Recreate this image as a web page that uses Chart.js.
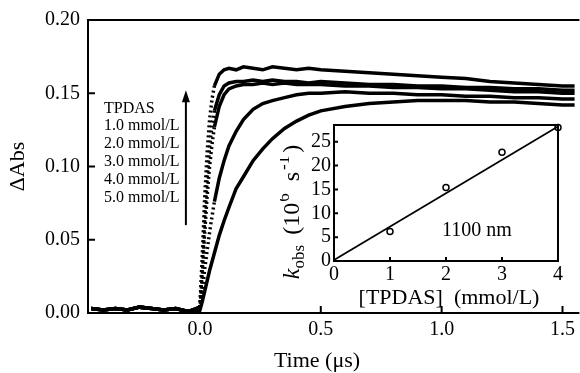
<!DOCTYPE html>
<html>
<head>
<meta charset="utf-8">
<script src="https://cdn.jsdelivr.net/npm/chart.js@4.4.1/dist/chart.umd.min.js"></script>
<style>
  html, body { margin: 0; padding: 0; background: #fff; }
  #wrap { position: relative; width: 580px; height: 373px; }
  #mainChart { position: absolute; left: 0; top: 0; }
  #insetChart { position: absolute; left: 280px; top: 110px; }
</style>
</head>
<body>
<div id="wrap">
  <canvas id="mainChart" width="580" height="373"></canvas>
  <canvas id="insetChart" width="300" height="200"></canvas>
</div>
<script>
const SERIF = '"Liberation Serif", "Times New Roman", serif';

// --- main panel: transient absorption at 1100 nm ---
const preTimes = [-0.45, -0.40, -0.35, -0.30, -0.25, -0.20, -0.15, -0.10, -0.05];
const baseline = [0.003, 0.002, 0.003, 0.002, 0.004, 0.003, 0.002, 0.003, 0.001];
const riseTimes = [0, 0.01, 0.02, 0.03, 0.04, 0.05, 0.06, 0.08, 0.10, 0.12, 0.15, 0.18, 0.22, 0.26, 0.30,
                   0.35, 0.40, 0.45, 0.50, 0.60, 0.70, 0.80, 0.90, 1.00, 1.10, 1.20, 1.30, 1.40, 1.50, 1.55];
const trace50 = [0.004, 0.040, 0.080, 0.110, 0.132, 0.146, 0.155, 0.163, 0.166, 0.167, 0.166, 0.168, 0.167, 0.166, 0.168,
                 0.167, 0.166, 0.167, 0.166, 0.165, 0.164, 0.163, 0.162, 0.161, 0.160, 0.158, 0.157, 0.156, 0.155, 0.155];
const trace40 = [0.004, 0.030, 0.065, 0.092, 0.113, 0.128, 0.138, 0.149, 0.155, 0.157, 0.158, 0.158, 0.159, 0.158, 0.159,
                 0.158, 0.158, 0.157, 0.158, 0.157, 0.156, 0.156, 0.155, 0.155, 0.154, 0.154, 0.153, 0.153, 0.152, 0.152];
const trace30 = [0.003, 0.026, 0.055, 0.080, 0.100, 0.115, 0.127, 0.141, 0.149, 0.153, 0.155, 0.156, 0.156, 0.157, 0.156,
                 0.157, 0.156, 0.156, 0.156, 0.155, 0.155, 0.154, 0.154, 0.153, 0.153, 0.152, 0.151, 0.151, 0.150, 0.150];
const trace20 = [0.003, 0.015, 0.030, 0.043, 0.055, 0.066, 0.076, 0.092, 0.104, 0.114, 0.124, 0.132, 0.139, 0.143, 0.145,
                 0.147, 0.149, 0.150, 0.150, 0.151, 0.150, 0.150, 0.149, 0.149, 0.148, 0.148, 0.147, 0.147, 0.146, 0.146];
const trace10 = [0.002, 0.008, 0.015, 0.022, 0.029, 0.035, 0.041, 0.053, 0.063, 0.072, 0.085, 0.093, 0.104, 0.112, 0.119,
                 0.126, 0.131, 0.135, 0.138, 0.141, 0.143, 0.144, 0.145, 0.145, 0.145, 0.144, 0.144, 0.143, 0.142, 0.142];
const traces = [trace50, trace40, trace30, trace20, trace10];
const xTicks = [0.0, 0.5, 1.0, 1.5];
const yTicks = [0.00, 0.05, 0.10, 0.15, 0.20];
const legendLines = ['TPDAS', '1.0 mmol/L', '2.0 mmol/L', '3.0 mmol/L', '4.0 mmol/L', '5.0 mmol/L'];

// --- inset: kobs vs [TPDAS] ---
const tpdas = [1, 2, 3, 4];
const kobs = [6.2, 15.4, 22.8, 28.0];
const fitX = [0, 4];
const fitY = [0.2, 28.2];
const insetXTicks = [0, 1, 2, 3, 4];
const insetYTicks = [0, 5, 10, 15, 20, 25];

const allTimes = preTimes.concat(riseTimes);

const mainDecor = {
  id: 'mainDecor',
  afterDraw(chart) {
    const { ctx, chartArea: a, scales: { x, y } } = chart;
    ctx.save();
    ctx.strokeStyle = '#000';
    ctx.lineWidth = 2;
    ctx.beginPath();
    ctx.moveTo(a.right, a.top);
    ctx.lineTo(a.left, a.top);
    ctx.lineTo(a.left, a.bottom);
    ctx.lineTo(a.right, a.bottom);
    yTicks.forEach(v => { const p = y.getPixelForValue(v); ctx.moveTo(a.left, p); ctx.lineTo(a.left + 7, p); });
    xTicks.forEach(v => { const p = x.getPixelForValue(v); ctx.moveTo(p, a.bottom); ctx.lineTo(p, a.bottom - 7); });
    ctx.stroke();

    // concentration list + arrow
    ctx.fillStyle = '#000';
    ctx.font = '16px ' + SERIF;
    ctx.textAlign = 'left';
    ctx.textBaseline = 'middle';
    const lx = x.getPixelForValue(-0.397);
    const ly = y.getPixelForValue(0.1397);
    legendLines.forEach((s, i) => ctx.fillText(s, lx, ly + i * 17.8));

    const ax = x.getPixelForValue(-0.058);
    const ay0 = y.getPixelForValue(0.060), ay1 = y.getPixelForValue(0.152);
    ctx.lineWidth = 2;
    ctx.beginPath();
    ctx.moveTo(ax, ay0); ctx.lineTo(ax, ay1 + 8);
    ctx.stroke();
    ctx.beginPath();
    ctx.moveTo(ax, ay1); ctx.lineTo(ax - 4, ay1 + 12); ctx.lineTo(ax + 4, ay1 + 12); ctx.closePath();
    ctx.fill();

    // axis titles
    ctx.font = '22px ' + SERIF;
    ctx.textAlign = 'center';
    ctx.fillText('Time (\u03bcs)', 317, 361);
    ctx.save();
    ctx.translate(18, (a.top + a.bottom) / 2);
    ctx.rotate(-Math.PI / 2);
    ctx.fillText('\u0394Abs', 0, 0);
    ctx.restore();
    ctx.restore();
  }
};

new Chart(document.getElementById('mainChart'), {
  type: 'line',
  data: {
    datasets: traces.map(tr => ({
      data: allTimes.map((t, i) => ({ x: t, y: baseline.concat(tr)[i] })),
      borderColor: '#000',
      backgroundColor: '#000',
      borderWidth: 3.5,
      pointRadius: 0,
      tension: 0,
      segment: {
        borderDash: c => ((c.p1.parsed.y - c.p0.parsed.y) / (c.p1.parsed.x - c.p0.parsed.x) > 0.85 ? [2, 3] : undefined)
      }
    }))
  },
  options: {
    responsive: false,
    animation: false,
    devicePixelRatio: 1,
    layout: { padding: { top: 20, right: 0, left: 0, bottom: 0 } },
    plugins: { legend: { display: false }, tooltip: { enabled: false } },
    scales: {
      x: {
        type: 'linear', min: -0.463, max: 1.57,
        afterBuildTicks: s => { s.ticks = xTicks.map(v => ({ value: v })); },
        afterFit: s => { s.height = 60; },
        grid: { display: false, drawTicks: false },
        border: { display: false },
        ticks: { color: '#000', padding: 5, font: { family: SERIF, size: 20 }, callback: v => v.toFixed(1) }
      },
      y: {
        min: 0, max: 0.2,
        afterBuildTicks: s => { s.ticks = yTicks.map(v => ({ value: v })); },
        afterFit: s => { s.width = 88; },
        grid: { display: false, drawTicks: false },
        border: { display: false },
        ticks: { color: '#000', padding: 8, font: { family: SERIF, size: 20 }, callback: v => v.toFixed(2) }
      }
    }
  },
  plugins: [mainDecor]
});

const insetDecor = {
  id: 'insetDecor',
  afterDraw(chart) {
    const { ctx, chartArea: a, scales: { x, y } } = chart;
    ctx.save();
    ctx.strokeStyle = '#000';
    ctx.fillStyle = '#000';
    ctx.lineWidth = 2;
    ctx.strokeRect(a.left, a.top, a.right - a.left, a.bottom - a.top);
    ctx.beginPath();
    insetYTicks.forEach(v => { const p = y.getPixelForValue(v); ctx.moveTo(a.left, p); ctx.lineTo(a.left + 4, p); });
    insetXTicks.forEach(v => { const p = x.getPixelForValue(v); ctx.moveTo(p, a.bottom); ctx.lineTo(p, a.bottom - 4); });
    ctx.stroke();

    ctx.textAlign = 'center';
    ctx.textBaseline = 'middle';
    ctx.font = '20px ' + SERIF;
    ctx.fillText('1100 nm', x.getPixelForValue(2.55), y.getPixelForValue(6.4));
    ctx.font = '22px ' + SERIF;
    ctx.fillText('[TPDAS]  (mmol/L)', 169, 188);

    // rotated k_obs (10^6 s^-1), spread out like the original
    const parts = [
      { t: 'k', f: 'italic 24px ', dy: 0, gap: 0 },
      { t: 'obs', f: '17px ', dy: 5, gap: 0 },
      { t: '(10', f: '24px ', dy: 0, gap: 10 },
      { t: '6', f: '17px ', dy: -10, gap: 1 },
      { t: 's', f: '24px ', dy: 0, gap: 12 },
      { t: '-1', f: '17px ', dy: -10, gap: 2 },
      { t: ')', f: '24px ', dy: 0, gap: 3 }
    ];
    let total = 0;
    parts.forEach(p => { ctx.font = p.f + SERIF; p.w = ctx.measureText(p.t).width; total += p.w + p.gap; });
    ctx.save();
    ctx.translate(11, 102);
    ctx.rotate(-Math.PI / 2);
    ctx.textAlign = 'left';
    ctx.textBaseline = 'alphabetic';
    let cx = -total / 2;
    parts.forEach(p => { cx += p.gap; ctx.font = p.f + SERIF; ctx.fillText(p.t, cx, 8 + p.dy); cx += p.w; });
    ctx.restore();
    ctx.restore();
  }
};

new Chart(document.getElementById('insetChart'), {
  data: {
    datasets: [
      {
        type: 'line',
        data: fitX.map((v, i) => ({ x: v, y: fitY[i] })),
        borderColor: '#000', borderWidth: 1.8, pointRadius: 0
      },
      {
        type: 'scatter',
        data: tpdas.map((v, i) => ({ x: v, y: kobs[i] })),
        pointRadius: 3, pointBorderWidth: 1.5,
        pointBorderColor: '#000', pointBackgroundColor: 'rgba(0,0,0,0)',
        clip: false
      }
    ]
  },
  options: {
    responsive: false,
    animation: false,
    devicePixelRatio: 1,
    layout: { padding: { top: 13, right: 22, left: 0, bottom: 0 } },
    plugins: { legend: { display: false }, tooltip: { enabled: false } },
    scales: {
      x: {
        type: 'linear', min: 0, max: 4,
        afterBuildTicks: s => { s.ticks = insetXTicks.map(v => ({ value: v })); },
        afterFit: s => { s.height = 49; },
        grid: { display: false, drawTicks: false },
        border: { display: false },
        ticks: { color: '#000', padding: 2, font: { family: SERIF, size: 20 } }
      },
      y: {
        type: 'linear', min: 0, max: 28.5,
        afterBuildTicks: s => { s.ticks = insetYTicks.map(v => ({ value: v })); },
        afterFit: s => { s.width = 54; },
        grid: { display: false, drawTicks: false },
        border: { display: false },
        ticks: { color: '#000', padding: 3, font: { family: SERIF, size: 20 } }
      }
    }
  },
  plugins: [insetDecor]
});
</script>
</body>
</html>
